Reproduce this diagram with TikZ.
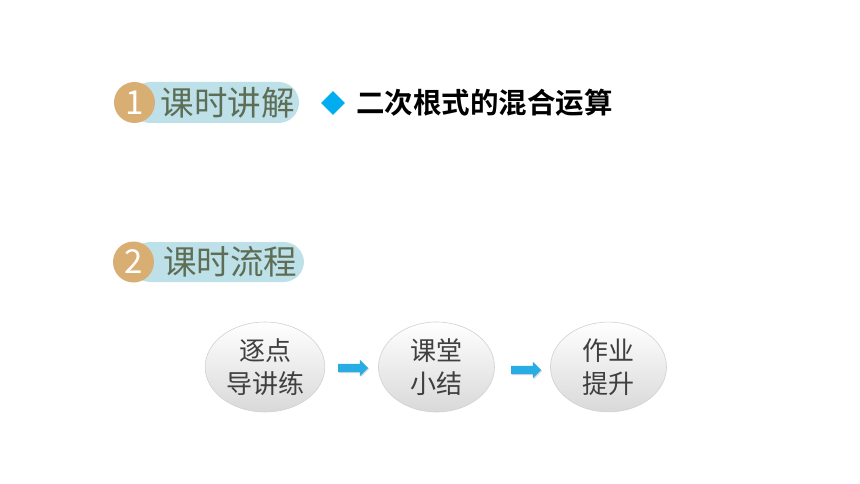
\documentclass[tikz,border=0pt]{standalone}
\usepackage{fontspec}
\usepackage{xcolor}
\usepackage{tikz}
\usetikzlibrary{positioning}
\usetikzlibrary{shapes.geometric,shapes.arrows}
\usetikzlibrary{shadows}
\newfontfamily\cjk{Noto Sans CJK SC}
\newfontfamily\cjkbold{Noto Sans CJK SC Bold}
\definecolor{badgeGold}{HTML}{D9AE72}
\definecolor{pillBlue}{HTML}{BEE1E9}
\definecolor{pillText}{HTML}{5E6E56}
\definecolor{markBlue}{HTML}{00AEEF}
\definecolor{flowBlue}{HTML}{27ADE4}
\definecolor{stageText}{HTML}{3F3F3F}
\tikzstyle{badge}=[circle, fill=badgeGold, minimum size=41pt, inner sep=0pt, text=white, font=\cjk\fontsize{33}{33}\selectfont]
\tikzstyle{pill}=[fill=pillBlue, rounded corners=20.5pt]
\tikzstyle{heading}=[text=pillText, inner sep=0pt, font=\cjk\fontsize{33.5}{33.5}\selectfont]
\tikzstyle{bullet}=[diamond, fill=markBlue, minimum size=24pt, inner sep=0pt]
\tikzstyle{title}=[anchor=west, inner sep=0pt, font=\cjkbold\fontsize{28.5}{28.5}\selectfont]
\tikzstyle{stage}=[ellipse, draw=black!18, line width=0.6pt, top color=white, bottom color=black!15, minimum width=116pt, minimum height=85pt, align=center, text=stageText, font=\cjk\fontsize{26}{33}\selectfont]
\tikzstyle{flow}=[single arrow, fill=flowBlue, minimum height=30pt, single arrow head extend=4pt, inner sep=4pt, drop shadow={shadow xshift=1pt, shadow yshift=-1pt, opacity=0.3}]

\begin{document}
\begin{tikzpicture}[x=1pt, y=-1pt]
      \useasboundingbox[fill=white] (0,0) rectangle (860,484);

      % part 1
      \fill[pill] (130,82) rectangle (299,123);
      \node[badge] (num1) at (134.5,102.5) {1};
      \node[heading] (head1) at (227.5,102.5) {课时讲解};
      \node[bullet] (bullet1) at (333,103) {};
      \node[title] (title1) at (356,103) {二次根式的混合运算};

      % part 2
      \fill[pill] (130,242) rectangle (304,282);
      \node[badge] (num2) at (133.5,262) {2};
      \node[heading] (head2) at (230,262) {课时流程};

      % flow
      \node[stage] (stage1) at (265,367) {逐点\\导讲练};
      \node[stage] (stage2) at (436.5,367) {课堂\\小结};
      \node[stage] (stage3) at (608.5,367) {作业\\提升};
      \node[flow] (flow1) at (351,368) {};
      \node[flow] (flow2) at (524,370) {};

    \end{tikzpicture}
\end{document}
